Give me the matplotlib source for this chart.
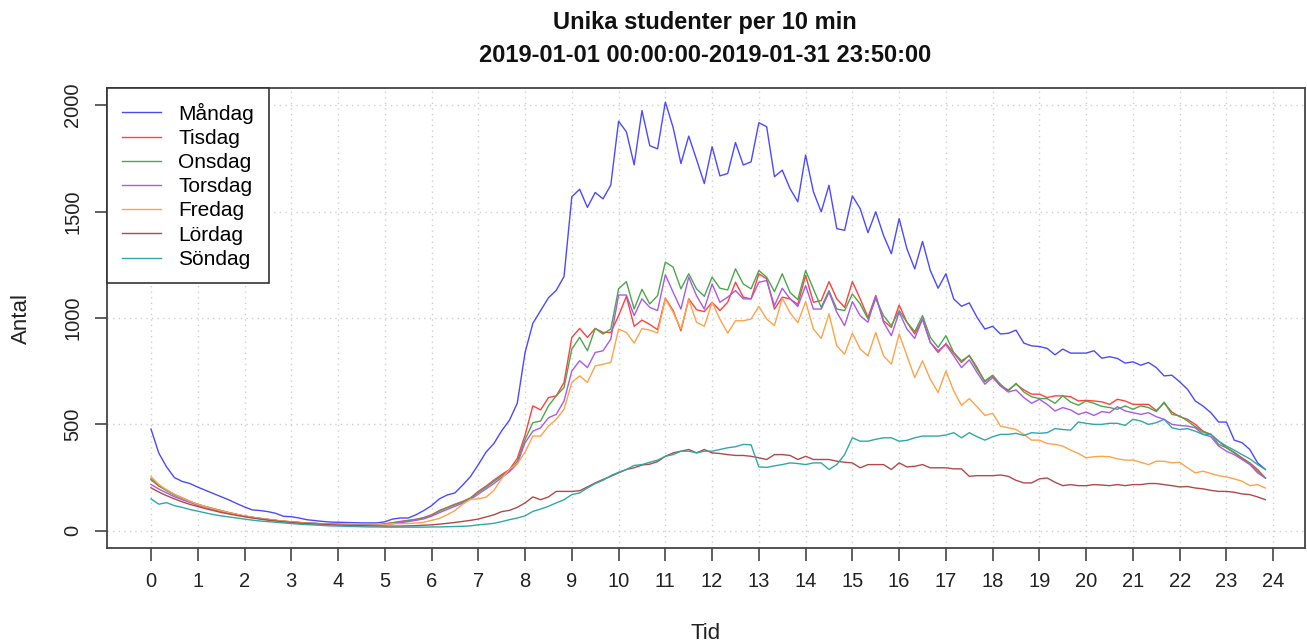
import numpy as np
import matplotlib
matplotlib.use("Agg")
import matplotlib.pyplot as plt

plt.rcParams['font.family'] = ['Liberation Sans', 'DejaVu Sans']

# antal unika studenter per 10-minutersintervall, 144 intervall per dag
mandag = [478, 365, 300, 250, 232, 222, 205, 190, 175, 160,
          145, 128, 112, 98, 95, 90, 82, 68, 66, 60,
          52, 48, 44, 41, 40, 39, 38, 37, 37, 37,
          42, 55, 60, 60, 75, 95, 118, 150, 168, 178,
          215, 255, 311, 370, 410, 470, 520, 600, 838, 975,
          1035, 1095, 1130, 1195, 1570, 1605, 1520, 1590, 1560, 1625,
          1925, 1875, 1720, 1975, 1810, 1795, 2015, 1895, 1726, 1855,
          1745, 1632, 1805, 1668, 1679, 1825, 1719, 1734, 1918, 1899,
          1664, 1695, 1608, 1546, 1766, 1593, 1499, 1624, 1420, 1412,
          1574, 1514, 1401, 1499, 1388, 1302, 1467, 1325, 1231, 1360,
          1223, 1140, 1208, 1090, 1055, 1071, 1003, 948, 961, 925,
          928, 943, 882, 869, 866, 857, 827, 854, 835, 835,
          835, 846, 811, 818, 810, 788, 794, 778, 791, 767,
          728, 731, 700, 665, 610, 586, 555, 511, 511, 426,
          414, 382, 319, 288]

tisdag = [240, 210, 192, 170, 155, 138, 124, 114, 104, 95,
          85, 77, 68, 63, 58, 54, 49, 45, 42, 39,
          36, 35, 33, 32, 31, 30, 29, 28, 28, 28,
          33, 38, 44, 49, 54, 62, 75, 95, 110, 125,
          138, 155, 185, 210, 238, 264, 288, 340, 450, 587,
          568, 626, 634, 697, 909, 951, 909, 951, 932, 932,
          1011, 1102, 961, 990, 970, 945, 1093, 1035, 940, 1090,
          1039, 1030, 1074, 1035, 1074, 1168, 1098, 1090, 1208, 1184,
          1042, 1098, 1090, 1064, 1200, 1074, 1082, 1171, 1090, 1050,
          1171, 1090, 1003, 1105, 987, 956, 1061, 980, 925, 995,
          885, 838, 880, 835, 791, 825, 767, 700, 728, 681,
          662, 689, 662, 642, 642, 626, 634, 634, 630, 610,
          613, 610, 606, 594, 618, 610, 594, 594, 594, 565,
          600, 558, 536, 524, 500, 468, 453, 421, 390, 369,
          343, 319, 288, 248]

onsdag = [245, 212, 188, 168, 152, 137, 124, 113, 103, 94,
          85, 77, 69, 63, 58, 53, 49, 45, 42, 39,
          37, 35, 33, 31, 30, 29, 28, 27, 27, 27,
          31, 36, 42, 47, 53, 60, 72, 92, 108, 122,
          136, 152, 180, 205, 232, 258, 283, 325, 429, 508,
          516, 587, 634, 673, 854, 909, 846, 951, 925, 948,
          1137, 1171, 1042, 1135, 1066, 1105, 1263, 1239, 1137, 1208,
          1137, 1102, 1192, 1140, 1132, 1231, 1160, 1137, 1223, 1192,
          1124, 1208, 1120, 1086, 1223, 1137, 1050, 1129, 1042, 1035,
          1113, 1066, 995, 1090, 1011, 964, 1035, 980, 936, 1011,
          909, 862, 917, 838, 799, 822, 759, 704, 731, 689,
          657, 693, 652, 630, 621, 621, 599, 634, 605, 590,
          610, 599, 585, 579, 571, 587, 571, 587, 579, 560,
          605, 547, 540, 516, 489, 464, 453, 406, 390, 366,
          338, 316, 280, 248]

torsdag = [218, 196, 178, 160, 146, 133, 120, 110, 100, 91,
           83, 76, 69, 63, 57, 52, 48, 44, 41, 38,
           36, 34, 32, 30, 29, 28, 27, 26, 26, 26,
           29, 33, 38, 43, 49, 56, 68, 85, 100, 115,
           130, 148, 172, 197, 222, 250, 278, 315, 414, 468,
           484, 531, 547, 610, 751, 799, 767, 838, 846, 901,
           1108, 1108, 1011, 1090, 1050, 1035, 1203, 1121, 1042, 1192,
           1105, 1042, 1160, 1074, 1098, 1129, 1090, 1090, 1168, 1176,
           1058, 1140, 1090, 1054, 1152, 1042, 1042, 1121, 1027, 964,
           1077, 1011, 980, 1105, 980, 917, 1027, 948, 904, 995,
           885, 846, 875, 822, 767, 803, 744, 689, 720, 681,
           652, 662, 626, 599, 618, 594, 563, 579, 568, 547,
           558, 542, 560, 555, 583, 563, 555, 547, 555, 536,
           524, 500, 495, 492, 484, 453, 442, 398, 374, 358,
           335, 311, 272, 248]

fredag = [255, 218, 192, 172, 154, 138, 124, 113, 103, 94,
          85, 77, 70, 64, 58, 53, 49, 45, 42, 39,
          36, 34, 32, 30, 29, 28, 27, 26, 26, 27,
          30, 33, 33, 34, 36, 40, 49, 58, 75, 95,
          125, 148, 150, 158, 190, 245, 290, 315, 370, 445,
          445, 492, 524, 571, 697, 728, 697, 775, 783, 791,
          948, 932, 882, 950, 943, 930, 1090, 1027, 948, 1086,
          980, 961, 1074, 995, 929, 987, 987, 995, 1055, 995,
          964, 1093, 1025, 978, 1077, 948, 904, 1019, 869, 830,
          929, 854, 822, 932, 822, 783, 925, 822, 720, 799,
          712, 650, 751, 657, 590, 621, 583, 542, 552, 492,
          484, 476, 453, 426, 426, 410, 406, 398, 379, 363,
          343, 348, 350, 348, 338, 332, 332, 322, 311, 327,
          327, 319, 322, 296, 272, 280, 269, 259, 253, 244,
          233, 212, 217, 201]

lordag = [202, 182, 165, 150, 136, 124, 114, 104, 95, 86,
          79, 72, 66, 60, 55, 50, 46, 42, 39, 36,
          34, 32, 30, 28, 27, 26, 25, 24, 23, 22,
          22, 22, 22, 23, 24, 26, 28, 31, 35, 39,
          44, 49, 55, 65, 75, 90, 96, 110, 131, 159,
          146, 159, 185, 185, 185, 188, 206, 225, 241, 256,
          272, 288, 296, 309, 313, 325, 350, 366, 374, 382,
          366, 382, 366, 363, 358, 354, 354, 350, 343, 335,
          358, 358, 354, 335, 350, 335, 335, 335, 327, 322,
          319, 296, 311, 311, 311, 288, 319, 300, 303, 311,
          296, 296, 296, 291, 291, 256, 259, 259, 259, 262,
          256, 237, 225, 225, 244, 248, 228, 212, 217, 212,
          212, 217, 215, 212, 217, 212, 217, 217, 222, 222,
          217, 212, 206, 208, 201, 197, 190, 185, 185, 181,
          173, 170, 159, 146]

sondag = [150, 125, 132, 118, 110, 100, 92, 84, 76, 70,
          65, 60, 55, 50, 46, 43, 40, 37, 34, 31,
          29, 27, 25, 23, 22, 21, 20, 19, 18, 18,
          17, 17, 17, 17, 17, 17, 18, 18, 19, 20,
          21, 23, 28, 31, 35, 43, 52, 60, 70, 91,
          102, 115, 131, 146, 170, 178, 201, 222, 237, 259,
          275, 288, 307, 311, 322, 332, 350, 358, 374, 374,
          366, 374, 374, 382, 390, 395, 406, 404, 300, 298,
          305, 311, 319, 316, 311, 319, 319, 288, 311, 358,
          437, 421, 421, 430, 437, 437, 421, 425, 437, 445,
          445, 445, 450, 461, 437, 461, 442, 426, 442, 453,
          453, 458, 448, 461, 458, 461, 480, 476, 473, 511,
          505, 500, 500, 505, 505, 495, 524, 516, 500, 508,
          524, 484, 476, 480, 468, 453, 453, 421, 398, 379,
          358, 338, 311, 288]

dagar = ["Måndag", "Tisdag", "Onsdag", "Torsdag", "Fredag", "Lördag", "Söndag"]
serier = [mandag, tisdag, onsdag, torsdag, fredag, lordag, sondag]
farger = ["#4a4aff", "#ff4040", "#4aa84a", "#a95ae6", "#ffa34a", "#b04a4a", "#2fa8a8"]

tid = np.arange(144) / 6.0

fig = plt.figure(figsize=(13.07, 6.42), dpi=100)
ax = fig.add_axes([107 / 1307, 1 - 548 / 642, 1198 / 1307, 460 / 642])

for y, c, namn in zip(serier, farger, dagar):
    ax.plot(tid, y, color=c, lw=1.0, label=namn, zorder=3)

ax.set_xlim(-0.941, 24.68)
ax.set_ylim(-81, 2081)
ax.set_xticks(range(25))
ax.set_yticks([0, 500, 1000, 1500, 2000])
ax.grid(True, color="#d0d0d0", linestyle=(0, (1, 3)), linewidth=1.0, zorder=0)

for s in ax.spines.values():
    s.set_color("#444444")
    s.set_linewidth(1.3)

ax.tick_params(direction="out", length=9, width=1.2, color="#444444",
               labelsize=14.5, labelcolor="#222222")
ax.tick_params(axis="x", pad=8)
ax.tick_params(axis="y", pad=9)
for lab in ax.get_yticklabels():
    lab.set_rotation(90)
    lab.set_va("center")

ax.set_xlabel("Tid", fontsize=16, color="#222222", labelpad=23)
ax.set_ylabel("Antal", fontsize=16, color="#222222", labelpad=22)

leg = ax.legend(loc="upper left", bbox_to_anchor=(0, 1), borderaxespad=0,
                fancybox=False, framealpha=1, edgecolor="#333333",
                fontsize=15, handlelength=1.9, handletextpad=0.82,
                labelspacing=0.25, borderpad=0.7)
leg.get_frame().set_linewidth(1.2)

fig.text(705 / 1307, 1 - 22 / 642, "Unika studenter per 10 min", ha="center", va="center",
         fontsize=17, fontweight="bold", color="#111111")
fig.text(705 / 1307, 1 - 55 / 642, "2019-01-01 00:00:00-2019-01-31 23:50:00", ha="center",
         va="center", fontsize=17, fontweight="bold", color="#111111")

fig.savefig("out.png", dpi=100)
